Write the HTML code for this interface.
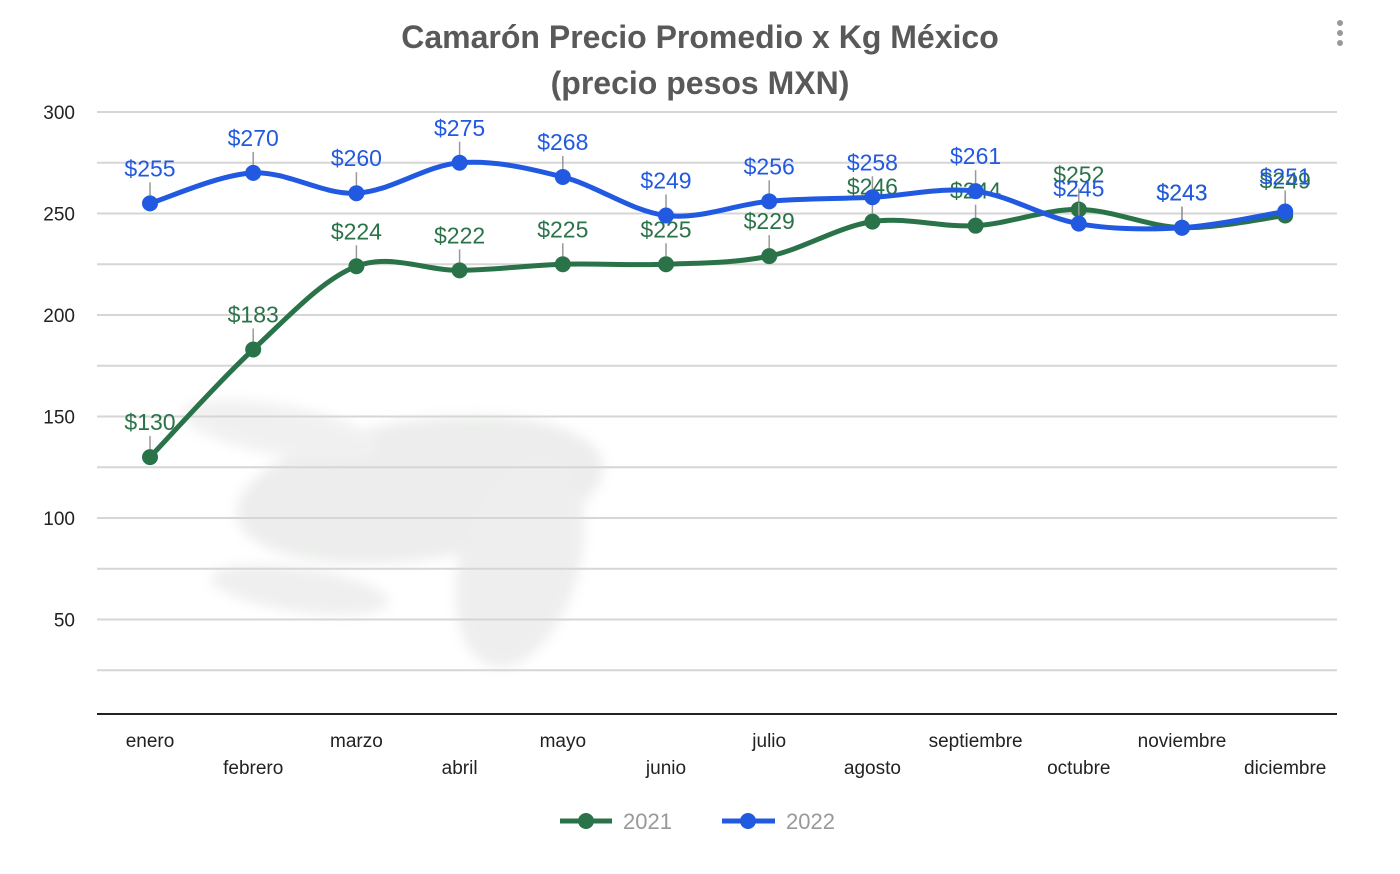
<!DOCTYPE html>
<html><head><meta charset="utf-8"><style>
html,body{margin:0;padding:0;background:#fff;width:1400px;height:874px;overflow:hidden}
svg{display:block}
</style></head><body>
<svg id="s" width="1400" height="874" xmlns="http://www.w3.org/2000/svg" font-family="Liberation Sans, DejaVu Sans, sans-serif">
<defs><filter id="bl"><feGaussianBlur stdDeviation="6"/></filter></defs>
<text x="700" y="48" text-anchor="middle" font-size="32" font-weight="bold" fill="#595959">Camarón Precio Promedio x Kg México</text>
<text x="700" y="94" text-anchor="middle" font-size="32" font-weight="bold" fill="#595959">(precio pesos MXN)</text>
<circle cx="1340" cy="23" r="3" fill="#999"/><circle cx="1340" cy="33" r="3" fill="#999"/><circle cx="1340" cy="43" r="3" fill="#999"/>
<g filter="url(#bl)" opacity="0.35">
<ellipse cx="420" cy="490" rx="185" ry="70" fill="#c9cdc9" transform="rotate(-8 420 490)"/>
<ellipse cx="300" cy="590" rx="90" ry="22" fill="#cfd2cf" transform="rotate(8 300 590)"/>
<ellipse cx="520" cy="560" rx="60" ry="110" fill="#cdd0cd" transform="rotate(15 520 560)"/>
<ellipse cx="280" cy="430" rx="100" ry="25" fill="#d5d7d5" transform="rotate(10 280 430)"/>
</g>
<g id="g"></g>
</svg>
<script>
var g=document.getElementById('g');
function Y(v){return 112+(300-v)*2.03}
var xs=[],i;for(i=0;i<12;i++)xs.push(150+i*103.2);
var h='';
for(var v=25;v<=300;v+=25)h+='<line x1="97" x2="1337" y1="'+Y(v)+'" y2="'+Y(v)+'" stroke="#d6d6d6" stroke-width="2"/>';
h+='<line x1="97" x2="1337" y1="714" y2="714" stroke="#222" stroke-width="2"/>';
[300,250,200,150,100,50].forEach(function(v){h+='<text x="75" y="'+(Y(v)+7)+'" text-anchor="end" font-size="19" fill="#222">'+v+'</text>'});
var m=['enero','febrero','marzo','abril','mayo','junio','julio','agosto','septiembre','octubre','noviembre','diciembre'];
m.forEach(function(t,i){h+='<text x="'+xs[i]+'" y="'+(i%2?774:747)+'" text-anchor="middle" font-size="19" fill="#222">'+t+'</text>'});
var d1=[130,183,224,222,225,225,229,246,244,252,243,249],d2=[255,270,260,275,268,249,256,258,261,245,243,251];
function path(d){var p=d.map(function(v,i){return [xs[i],Y(v)]});var s='M'+p[0][0]+','+p[0][1];
for(var i=0;i<p.length-1;i++){var p0=p[i-1]||p[i],p1=p[i],p2=p[i+1],p3=p[i+2]||p2;var k=0.5/3;
s+=' C'+(p1[0]+(p2[0]-p0[0])*k)+','+(p1[1]+(p2[1]-p0[1])*k)+' '+(p2[0]-(p3[0]-p1[0])*k)+','+(p2[1]-(p3[1]-p1[1])*k)+' '+p2[0]+','+p2[1];}return s}
function ser(d,c){var r='<path d="'+path(d)+'" fill="none" stroke="'+c+'" stroke-width="5"/>';
d.forEach(function(v,i){var y=Y(v);r+='<line x1="'+xs[i]+'" x2="'+xs[i]+'" y1="'+(y-8)+'" y2="'+(y-21)+'" stroke="#999" stroke-width="1.5"/>';
r+='<circle cx="'+xs[i]+'" cy="'+y+'" r="8" fill="'+c+'"/>';
r+='<text x="'+xs[i]+'" y="'+(y-27)+'" text-anchor="middle" font-size="23" fill="'+c+'">$'+v+'</text>';});return r}
h+=ser(d1,'#2a7349')+ser(d2,'#2159e0');
h+='<line x1="560" x2="612" y1="821" y2="821" stroke="#2a7349" stroke-width="5"/><circle cx="586" cy="821" r="8" fill="#2a7349"/><text x="623" y="829" font-size="22" fill="#999">2021</text>';
h+='<line x1="722" x2="775" y1="821" y2="821" stroke="#2159e0" stroke-width="5"/><circle cx="748" cy="821" r="8" fill="#2159e0"/><text x="786" y="829" font-size="22" fill="#999">2022</text>';
g.innerHTML=h;
</script>
</body></html>
